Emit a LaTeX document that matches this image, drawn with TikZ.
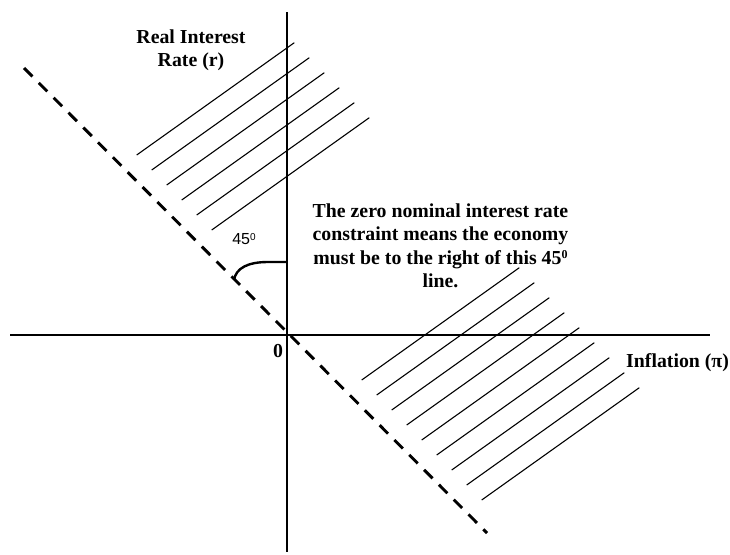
\documentclass[tikz,border=0pt]{standalone}
\usepackage{fontspec}
\setmainfont{Liberation Serif}
\newfontfamily\arialf{Liberation Sans}
\begin{document}
\begin{tikzpicture}[x=1pt,y=-1pt,
  axis/.style={line width=2.9pt},
  hatch/.style={line width=1.1pt},
  bound/.style={line width=2.9pt, dash pattern=on 12pt off 9pt},
  anglemark/.style={line width=2.4pt},
  lab/.style={font=\bfseries\fontsize{19.8}{23.3}\selectfont, inner sep=0pt, align=center}]
\useasboundingbox (0,0) rectangle (730,554);
\coordinate (O) at (287,335);
\coordinate (ytop) at (287,12);
\coordinate (ybot) at (287,552);
\coordinate (xl) at (10,335);
\coordinate (xr) at (710,335);
\coordinate (d1) at (24,68);
\coordinate (d2) at (487,533);
% hatching
\foreach \k in {0,...,5,15,16,...,23} {
  \draw[hatch] (136.7+15*\k,155+15*\k) -- ++(157.6,-112.3);
}
\draw[axis] (ytop) -- (ybot);
\draw[axis] (xl) -- (xr);
\draw[bound] (d1) -- (d2);
\coordinate (a1) at (287,262);
\coordinate (a2) at (234,280);
\draw[anglemark] (a1) -- (268,262) .. controls (248,262) and (236,268) .. (a2);
\node[font=\arialf\fontsize{16}{18}\selectfont, inner sep=0pt] (ang) at (244,239) {45\raisebox{0.45ex}{\fontsize{10}{12}\selectfont 0}};
\node[lab, anchor=base] (ylab) at (191,66.7) {Real Interest\\Rate (r)};
\node[lab, anchor=base west] (xlab) at (626,367) {Inflation (π)};
\node[lab, anchor=base] (zero) at (278,357) {0};
\node[lab, anchor=base] (txt) at (440.5,287.3) {The zero nominal interest rate\\constraint means the economy\\must be to the right of this 45\raisebox{0.6ex}{\fontsize{12}{14}\selectfont 0}\\line.};
\end{tikzpicture}
\end{document}
